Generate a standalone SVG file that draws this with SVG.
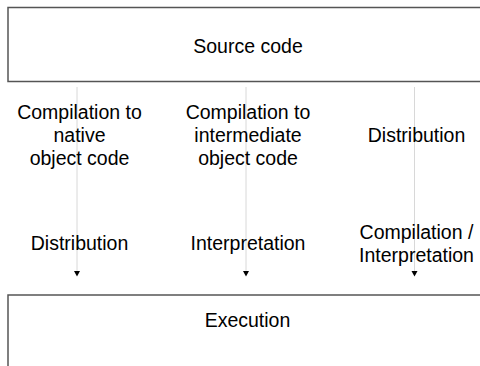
<svg xmlns="http://www.w3.org/2000/svg" width="480" height="366" viewBox="0 0 480 366">
<style>
.box{fill:#fff;stroke:#555;stroke-width:1.5}
.t{font-family:"Liberation Sans",Arial,sans-serif;font-size:19.5px;fill:#000;text-anchor:middle}
.c{stroke:#d8d8d8;stroke-width:1;fill:none}
.ah{fill:#000}
</style>
<defs>
<marker id="arr" markerWidth="6" markerHeight="6" refX="0" refY="0" orient="auto" markerUnits="userSpaceOnUse" viewBox="0 -3 6 6" overflow="visible">
<path d="M0,-3 L5.5,0 L0,3 Z" class="ah"/>
</marker>
</defs>
<rect width="480" height="366" fill="#fff"/>
<g id="source">
<rect class="box" x="8" y="7.5" width="500" height="74"/>
<text class="t" x="248" y="52.5">Source code</text>
</g>
<g id="execution">
<rect class="box" x="8" y="295" width="500" height="120"/>
<text class="t" x="247.5" y="327">Execution</text>
</g>
<g id="connectors">
<line class="c" x1="77" y1="87" x2="77" y2="271" marker-end="url(#arr)"/>
<line class="c" x1="246" y1="87" x2="246" y2="271" marker-end="url(#arr)"/>
<line class="c" x1="414.5" y1="87" x2="414.5" y2="271" marker-end="url(#arr)"/>
</g>
<g id="label-native">
<text class="t" x="79.5" y="119">Compilation to</text>
<text class="t" x="79.5" y="142">native</text>
<text class="t" x="79.5" y="165">object code</text>
</g>
<g id="label-intermediate">
<text class="t" x="248" y="119">Compilation to</text>
<text class="t" x="248" y="142">intermediate</text>
<text class="t" x="248" y="165">object code</text>
</g>
<g id="label-distribution3">
<text class="t" x="416.5" y="142">Distribution</text>
</g>
<g id="label-distribution1">
<text class="t" x="79.5" y="250">Distribution</text>
</g>
<g id="label-interpretation">
<text class="t" x="248" y="250">Interpretation</text>
</g>
<g id="label-compinterp">
<text class="t" x="416.5" y="238.5">Compilation /</text>
<text class="t" x="416.5" y="261.5">Interpretation</text>
</g>
</svg>
